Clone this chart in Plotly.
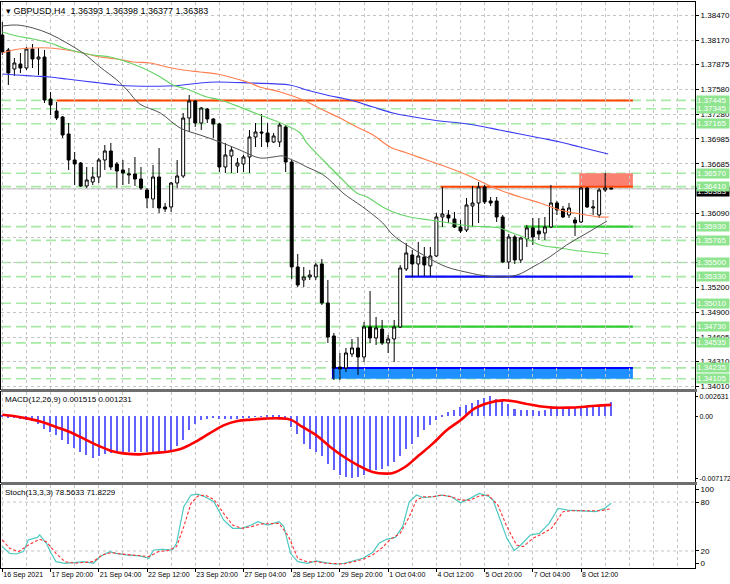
import plotly.graph_objects as go

# ---------------- DATA ----------------
bars = list(range(102))
opens = [1.38230, 1.38050, 1.37822, 1.37882, 1.37834, 1.38062, 1.37942, 1.37966, 1.37462, 1.37318,
         1.37246, 1.37042, 1.36730, 1.36694, 1.36418, 1.36466, 1.36526, 1.36730, 1.36838, 1.36682,
         1.36610, 1.36550, 1.36562, 1.36502, 1.36370, 1.36262, 1.36526, 1.36166, 1.36166, 1.36454,
         1.36538, 1.37234, 1.37438, 1.37174, 1.37342, 1.37222, 1.37162, 1.36646, 1.36778, 1.36658,
         1.36682, 1.36766, 1.37006, 1.37066, 1.37054, 1.36946, 1.36946, 1.37126, 1.36706, 1.35446,
         1.35290, 1.35326, 1.35326, 1.35482, 1.35014, 1.34618, 1.34246, 1.34234, 1.34402, 1.34474,
         1.34366, 1.34726, 1.34594, 1.34702, 1.34534, 1.34582, 1.34726, 1.35422, 1.35590, 1.35482,
         1.35566, 1.35458, 1.35578, 1.36046, 1.36070, 1.36022, 1.35926, 1.35890, 1.36178, 1.36214,
         1.36406, 1.36238, 1.36238, 1.36046, 1.35506, 1.35806, 1.35530, 1.35782, 1.35914, 1.35878,
         1.35854, 1.35926, 1.36214, 1.36142, 1.36070, 1.36010, 1.35986, 1.36394, 1.36154, 1.36070,
         1.36370, 1.36393]
highs = [1.38386, 1.38074, 1.37954, 1.38014, 1.38086, 1.38122, 1.38074, 1.38050, 1.37546, 1.37426,
         1.37258, 1.37174, 1.36826, 1.36706, 1.36646, 1.36646, 1.36754, 1.36910, 1.36934, 1.36706,
         1.36730, 1.36634, 1.36766, 1.36646, 1.36394, 1.36670, 1.36874, 1.36214, 1.36466, 1.36730,
         1.37294, 1.37510, 1.37450, 1.37366, 1.37354, 1.37234, 1.37174, 1.36934, 1.36886, 1.36754,
         1.36790, 1.37090, 1.37174, 1.37282, 1.37174, 1.37054, 1.37174, 1.37150, 1.36730, 1.35602,
         1.35446, 1.35410, 1.35494, 1.35542, 1.35290, 1.34654, 1.34414, 1.34474, 1.34582, 1.34606,
         1.34786, 1.35158, 1.34846, 1.34810, 1.34630, 1.34810, 1.35470, 1.35734, 1.35650, 1.35746,
         1.35686, 1.35686, 1.36094, 1.36406, 1.36130, 1.36106, 1.36010, 1.36274, 1.36418, 1.36466,
         1.36430, 1.36286, 1.36286, 1.36070, 1.35842, 1.35830, 1.35806, 1.35950, 1.36034, 1.36034,
         1.36046, 1.36430, 1.36238, 1.36178, 1.36214, 1.36046, 1.36406, 1.36406, 1.36250, 1.36394,
         1.36574, 1.36398]
lows = [1.37990, 1.37630, 1.37738, 1.37774, 1.37810, 1.37834, 1.37750, 1.37414, 1.37270, 1.37210,
        1.36994, 1.36610, 1.36430, 1.36406, 1.36394, 1.36430, 1.36454, 1.36610, 1.36610, 1.36394,
        1.36430, 1.36442, 1.36418, 1.36370, 1.36154, 1.36154, 1.36094, 1.36106, 1.36106, 1.36394,
        1.36514, 1.37066, 1.37126, 1.37090, 1.37174, 1.36994, 1.36586, 1.36574, 1.36574, 1.36574,
        1.36586, 1.36574, 1.36886, 1.36886, 1.36886, 1.36934, 1.36886, 1.36586, 1.35302, 1.35206,
        1.35206, 1.35290, 1.35290, 1.34990, 1.34534, 1.34090, 1.34090, 1.34186, 1.34366, 1.34150,
        1.34306, 1.34534, 1.34510, 1.34510, 1.34414, 1.34306, 1.34714, 1.35398, 1.35326, 1.35338,
        1.35338, 1.35338, 1.35566, 1.35926, 1.35974, 1.35914, 1.35854, 1.35866, 1.35926, 1.35974,
        1.36202, 1.36178, 1.35986, 1.35494, 1.35422, 1.35482, 1.35494, 1.35686, 1.35710, 1.35770,
        1.35770, 1.35914, 1.36070, 1.36034, 1.36034, 1.35818, 1.35974, 1.36154, 1.36070, 1.36034,
        1.36346, 1.36377]
closes = [1.38026, 1.37774, 1.37894, 1.37834, 1.38062, 1.37942, 1.37966, 1.37450, 1.37390, 1.37234,
          1.37030, 1.36730, 1.36682, 1.36418, 1.36490, 1.36526, 1.36730, 1.36838, 1.36646, 1.36598,
          1.36574, 1.36562, 1.36502, 1.36394, 1.36274, 1.36526, 1.36154, 1.36142, 1.36454, 1.36538,
          1.37234, 1.37438, 1.37174, 1.37354, 1.37222, 1.37162, 1.36646, 1.36790, 1.36850, 1.36694,
          1.36766, 1.37006, 1.37066, 1.37054, 1.36946, 1.37018, 1.37150, 1.36706, 1.35446, 1.35230,
          1.35326, 1.35350, 1.35470, 1.35014, 1.34606, 1.34234, 1.34222, 1.34414, 1.34474, 1.34366,
          1.34726, 1.34594, 1.34714, 1.34534, 1.34582, 1.34726, 1.35434, 1.35614, 1.35482, 1.35578,
          1.35470, 1.35578, 1.36046, 1.36082, 1.36034, 1.35926, 1.35878, 1.36190, 1.36214, 1.36406,
          1.36226, 1.36214, 1.36046, 1.35506, 1.35806, 1.35530, 1.35794, 1.35914, 1.35806, 1.35842,
          1.35926, 1.36214, 1.36130, 1.36046, 1.36154, 1.35974, 1.36394, 1.36166, 1.36166, 1.36370,
          1.36394, 1.36383]

x_tick_bars = [0, 8, 16, 24, 32, 40, 48, 56, 64, 72, 80, 88, 96]
x_tick_labels = ["16 Sep 2021", "17 Sep 20:00", "21 Sep 04:00", "22 Sep 12:00", "23 Sep 20:00",
                 "27 Sep 04:00", "28 Sep 12:00", "29 Sep 20:00", "1 Oct 04:00", "4 Oct 12:00",
                 "5 Oct 20:00", "7 Oct 04:00", "8 Oct 12:00"]

price_ticks = [1.38470, 1.38170, 1.37875, 1.37580, 1.37280, 1.36985, 1.36685, 1.36390,
               1.36090, 1.35795, 1.35500, 1.35200, 1.34900, 1.34605, 1.34310, 1.34010]
price_tick_text = ["1.38470", "1.38170", "1.37875", "1.37580", "1.37280", "1.36985", "1.36685", "",
                   "1.36090", "", "", "1.35200", "1.34900", "1.34605", "1.34310", "1.34010"]

# moving averages (bar position, price)
ma_gray_x = [0, 2.4, 5.1, 7.9, 10.7, 13.4, 16.2, 19.0, 20.7, 22.8, 26.2, 29.5, 32.8, 36.1, 39.4, 42.7,
             44.9, 46.6, 47.7, 48.9, 50.5, 52.7, 54.3, 56.5, 59.8, 63.1, 64.8, 67.6, 70.4, 73.7, 77.6,
             79.2, 82.5, 85.4, 88.0, 90.8, 93.6, 97.0, 100.3]
ma_gray_y = [1.38338, 1.38350, 1.38314, 1.38242, 1.38134, 1.38014, 1.37846, 1.37690, 1.37570, 1.37402,
             1.37294, 1.37114, 1.37030, 1.36946, 1.36850, 1.36754, 1.36766, 1.36778, 1.36742, 1.36706,
             1.36646, 1.36574, 1.36490, 1.36334, 1.36166, 1.35974, 1.35830, 1.35686, 1.35566, 1.35446,
             1.35374, 1.35350, 1.35326, 1.35350, 1.35446, 1.35566, 1.35710, 1.35854, 1.35998]
ma_green_x = [0, 2.4, 5.1, 7.9, 10.7, 15.0, 17.9, 20.7, 23.3, 26.2, 28.3, 30.6, 33.9, 35.6, 39.4, 42.7,
              46.6, 49.4, 50.5, 53.2, 56.0, 58.8, 60.5, 63.1, 64.8, 67.6, 70.9, 74.2, 77.6, 80.9, 82.5,
              84.2, 86.4, 89.2, 92.5, 95.8, 100.6]
ma_green_y = [1.38266, 1.38218, 1.38182, 1.38134, 1.38062, 1.37990, 1.37966, 1.37906, 1.37834, 1.37726,
              1.37630, 1.37582, 1.37486, 1.37462, 1.37366, 1.37270, 1.37162, 1.37054, 1.36934, 1.36730,
              1.36526, 1.36334, 1.36286, 1.36166, 1.36106, 1.36046, 1.36010, 1.35974, 1.35938, 1.35926,
              1.35914, 1.35866, 1.35806, 1.35710, 1.35674, 1.35638, 1.35602]
ma_orange_x = [0, 1.8, 5.1, 7.9, 10.7, 13.4, 16.2, 19.0, 21.7, 24.5, 27.3, 30.0, 32.8, 35.6, 38.3, 41.1,
               42.7, 46.1, 49.9, 53.2, 56.0, 58.8, 61.5, 64.3, 67.1, 70.4, 73.7, 77.1, 79.2, 82.5, 85.9,
               89.2, 92.5, 95.8, 99.1, 100.6]
ma_orange_y = [1.38014, 1.38050, 1.38074, 1.38074, 1.38050, 1.38014, 1.37966, 1.37942, 1.37906, 1.37894,
               1.37846, 1.37810, 1.37786, 1.37762, 1.37714, 1.37654, 1.37606, 1.37546, 1.37450, 1.37330,
               1.37234, 1.37126, 1.37030, 1.36886, 1.36814, 1.36730, 1.36646, 1.36550, 1.36478, 1.36370,
               1.36286, 1.36214, 1.36130, 1.36082, 1.36046, 1.36046]
ma_blue_x = [0, 2.4, 5.1, 7.9, 10.7, 13.4, 16.2, 19.0, 21.7, 27.3, 30.0, 32.8, 35.6, 41.1, 47.7, 50.5,
             53.8, 57.7, 61.5, 64.8, 69.3, 72.6, 75.9, 79.2, 82.5, 89.2, 92.5, 95.8, 100.5]
ma_blue_y = [1.37762, 1.37750, 1.37738, 1.37726, 1.37702, 1.37678, 1.37654, 1.37630, 1.37618, 1.37618,
             1.37630, 1.37654, 1.37666, 1.37654, 1.37630, 1.37570, 1.37510, 1.37450, 1.37366, 1.37294,
             1.37234, 1.37198, 1.37174, 1.37138, 1.37090, 1.36994, 1.36946, 1.36886, 1.36802]

# horizontal levels (dashed, full width) and their right-axis labels
level_prices = [1.37445, 1.37345, 1.37165, 1.36570, 1.36410, 1.35930, 1.35765,
                1.35500, 1.35330, 1.35010, 1.34730, 1.34535, 1.34235, 1.34105]
# solid support / resistance segments: price, start bar
orange_levels = [1.37445, 1.36410]
orange_starts = [9.0, 72.7]
green_levels = [1.35930, 1.34730]
green_starts = [86.5, 59.7]
blue_levels = [1.35330]
blue_starts = [66.8]
segment_end = 104.6
salmon_zone = [95.7, 1.36410, 1.36570]   # start bar, low, high
blue_zone = [54.8, 1.34105, 1.34235]

# MACD histogram (per bar) and signal line samples
macd_hist = [0.00010, -0.00010, -0.00025, -0.00035, -0.00040, -0.00050, -0.00080, -0.00136, -0.00172, -0.00209,
             -0.00256, -0.00307, -0.00347, -0.00390, -0.00427, -0.00452, -0.00437, -0.00416, -0.00401, -0.00401,
             -0.00401, -0.00394, -0.00394, -0.00394, -0.00390, -0.00394, -0.00390, -0.00383, -0.00372, -0.00329,
             -0.00256, -0.00154, -0.00082, -0.00045, -0.00030, -0.00020, -0.00028, -0.00036, -0.00032, -0.00026,
             -0.00020, -0.00012, -0.00008, -0.00004, 0.00002, 0.00005, 0.00010, -0.00012, -0.00118, -0.00198,
             -0.00299, -0.00354, -0.00390, -0.00437, -0.00517, -0.00583, -0.00637, -0.00662, -0.00673, -0.00662,
             -0.00644, -0.00608, -0.00583, -0.00572, -0.00546, -0.00499, -0.00437, -0.00354, -0.00299, -0.00227,
             -0.00154, -0.00100, -0.00038, 0.00009, 0.00045, 0.00071, 0.00100, 0.00118, 0.00143, 0.00172,
             0.00201, 0.00216, 0.00191, 0.00165, 0.00136, 0.00082, 0.00071, 0.00071, 0.00064, 0.00056,
             0.00071, 0.00100, 0.00100, 0.00100, 0.00093, 0.00093, 0.00107, 0.00107, 0.00114, 0.00118,
             0.00129, 0.001515]
macd_sig_x = [0, 1.9, 4.3, 6.6, 8.9, 11.2, 13.5, 15.8, 18.1, 20.5, 22.8, 25.1, 27.4, 29.7, 32.0, 34.3,
              36.7, 39.0, 41.3, 43.6, 45.9, 47.8, 49.8, 52.1, 54.4, 56.7, 59.0, 61.4, 63.7, 64.8, 66.8,
              69.1, 71.4, 73.7, 76.0, 78.3, 80.6, 83.0, 84.5, 86.8, 89.1, 91.4, 93.8, 96.1, 98.4, 101]
macd_sig_y = [0.00016, 0.00002, -0.00027, -0.00064, -0.00118, -0.00172, -0.00245, -0.00318, -0.00379,
              -0.00408, -0.00416, -0.00401, -0.00387, -0.00354, -0.00281, -0.00191, -0.00100, -0.00053,
              -0.00038, -0.00027, -0.00024, -0.00038, -0.00118, -0.00209, -0.00336, -0.00445, -0.00535,
              -0.00608, -0.00626, -0.00619, -0.00554, -0.00427, -0.00299, -0.00154, -0.00045, 0.00082,
              0.00143, 0.00172, 0.00165, 0.00136, 0.00107, 0.00093, 0.00093, 0.00100, 0.00114, 0.001231]
macd_tick_vals = [0.00216, 0.0, -0.00674]
macd_tick_text = ["0.002631", "0.00", "-0.007172"]

# Stochastic main and signal samples
stoch_main_x = [0, 1.2, 2.3, 3.5, 4.3, 5.8, 6.2, 7.3, 8.1, 8.9, 10.4, 12.0, 13.5, 15.1, 16.2, 17.8, 18.9,
                20.5, 22.8, 24.3, 25.1, 26.6, 28.2, 28.9, 30.1, 31.3, 32.4, 33.6, 35.1, 36.7, 38.2, 39.7,
                41.3, 42.4, 44.0, 45.9, 46.7, 47.8, 49.0, 50.6, 52.1, 53.6, 55.2, 56.7, 58.3, 59.8, 61.4,
                62.5, 63.7, 65.2, 66.4, 67.5, 68.7, 69.8, 71.4, 72.9, 74.5, 76.0, 77.6, 79.1, 80.6, 81.4,
                82.6, 83.7, 84.9, 86.0, 87.6, 89.1, 90.7, 92.2, 93.8, 95.3, 96.9, 98.4, 99.9, 101]
stoch_main_y = [25.3, 17.1, 16.3, 19.2, 33.5, 36.7, 39.6, 29.4, 17.1, 6.9, 4.9, 5.7, 6.9, 4.9, 13.1, 19.2,
                17.1, 15.1, 13.9, 11.0, 21.2, 22.0, 21.2, 29.4, 74.3, 88.6, 89.8, 86.5, 80.4, 58.0, 47.8,
                47.8, 51.8, 55.9, 51.8, 55.9, 49.8, 17.1, 6.9, 4.9, 7.8, 5.7, 3.7, 4.9, 8.2, 11.0, 18.0,
                29.4, 34.3, 36.7, 49.8, 80.4, 88.6, 85.3, 86.5, 88.6, 86.5, 79.2, 84.5, 90.6, 87.3, 82.4,
                58.0, 35.5, 20.4, 27.3, 39.6, 41.6, 53.9, 72.2, 70.2, 69.4, 69.4, 68.2, 72.2, 78.5633]
stoch_sig_x = [0, 1.2, 2.7, 4.3, 6.2, 7.3, 8.9, 10.4, 12.0, 13.5, 15.1, 16.6, 18.1, 19.7, 21.2, 22.8, 24.3,
               25.9, 27.4, 28.9, 30.1, 31.3, 32.4, 33.6, 35.1, 36.7, 38.2, 39.7, 41.3, 42.8, 44.4, 45.9,
               47.5, 49.0, 50.6, 52.1, 53.6, 55.2, 56.7, 58.3, 59.8, 61.4, 62.9, 64.4, 66.0, 67.5, 68.7,
               69.8, 71.4, 72.9, 74.5, 76.0, 77.6, 79.1, 80.6, 82.2, 83.7, 85.3, 86.4, 88.0, 89.5, 91.1,
               93.0, 94.5, 96.1, 97.6, 99.2, 101]
stoch_sig_y = [33.5, 23.3, 19.2, 27.3, 34.3, 31.4, 17.1, 6.9, 4.9, 5.7, 6.9, 15.1, 18.0, 16.3, 15.1, 13.9,
               13.1, 19.2, 20.4, 25.3, 49.8, 78.4, 87.3, 88.6, 83.3, 66.1, 51.8, 47.8, 49.8, 53.1, 53.9,
               53.9, 37.6, 11.0, 6.5, 6.9, 4.9, 4.1, 4.1, 6.9, 9.8, 15.1, 23.3, 34.3, 41.6, 62.0, 82.4,
               86.5, 86.5, 88.6, 86.5, 82.4, 82.4, 87.3, 88.6, 76.3, 49.8, 27.3, 25.3, 35.5, 40.8, 47.8,
               68.2, 69.4, 69.4, 69.4, 69.4, 71.8229]
stoch_levels = [80, 20]
stoch_tick_vals = [95.6, 80, 20, 4.9]
stoch_tick_text = ["100", "80", "20", "0"]

header_text = "GBPUSD,H4  1.36393 1.36398 1.36377 1.36383"
macd_text = "MACD(12,26,9) 0.001515 0.001231"
stoch_text = "Stoch(13,3,3) 78.5633 71.8229"

# ---------------- FIGURE ----------------
FONT = "Liberation Sans Narrow, Liberation Sans, Arial, sans-serif"
GRID = "#c4c4c4"
XR = [-0.22, 114.9]
D_MAIN = [0.3163, 1.0]
D_MACD = [0.1519, 0.3110]
D_STOCH = [0.0, 0.1466]

fig = go.Figure()

for xs, ys, col, w in [(ma_blue_x, ma_blue_y, "#3b3bf5", 1.2),
                       (ma_orange_x, ma_orange_y, "#ff7f50", 1.2),
                       (ma_green_x, ma_green_y, "#66d466", 1.2),
                       (ma_gray_x, ma_gray_y, "#505050", 1.0)]:
    fig.add_trace(go.Scatter(x=xs, y=ys, mode="lines", line=dict(color=col, width=w, shape="spline"),
                             xaxis="x", yaxis="y", hoverinfo="skip", showlegend=False))

fig.add_trace(go.Candlestick(
    x=bars, open=opens, high=highs, low=lows, close=closes,
    increasing=dict(line=dict(color="black", width=1), fillcolor="white"),
    decreasing=dict(line=dict(color="black", width=1), fillcolor="black"),
    whiskerwidth=0, xaxis="x", yaxis="y", showlegend=False))

fig.add_trace(go.Bar(x=bars, y=macd_hist, width=0.25, marker=dict(color="#6060ff", line=dict(width=0)),
                     xaxis="x2", yaxis="y2", showlegend=False))
fig.add_trace(go.Scatter(x=macd_sig_x, y=macd_sig_y, mode="lines",
                         line=dict(color="#ff0000", width=2.6, shape="spline"),
                         xaxis="x2", yaxis="y2", showlegend=False))

fig.add_trace(go.Scatter(x=stoch_main_x, y=stoch_main_y, mode="lines",
                         line=dict(color="#4cc9c0", width=1.2),
                         xaxis="x3", yaxis="y3", showlegend=False))
fig.add_trace(go.Scatter(x=stoch_sig_x, y=stoch_sig_y, mode="lines",
                         line=dict(color="#ff3030", width=1.1, dash="3px,2px"),
                         xaxis="x3", yaxis="y3", showlegend=False))

shapes = []
for p in level_prices:
    shapes.append(dict(type="line", xref="x", yref="y", x0=XR[0], x1=XR[1], y0=p, y1=p,
                       line=dict(color="#a6eaa6", width=1.6, dash="10px,5px"), layer="below"))
shapes.append(dict(type="line", xref="x", yref="y", x0=XR[0], x1=XR[1], y0=closes[-1], y1=closes[-1],
                   line=dict(color="#c0c0c0", width=1), layer="below"))
shapes.append(dict(type="rect", xref="x", yref="y", x0=salmon_zone[0], x1=segment_end,
                   y0=salmon_zone[1], y1=salmon_zone[2], fillcolor="#fa8072", line=dict(width=0),
                   layer="below"))
shapes.append(dict(type="rect", xref="x", yref="y", x0=blue_zone[0], x1=segment_end,
                   y0=blue_zone[1], y1=blue_zone[2], fillcolor="#1e90ff", line=dict(width=0),
                   layer="below"))
shapes.append(dict(type="line", xref="x", yref="y", x0=blue_zone[0], x1=segment_end,
                   y0=blue_zone[2], y1=blue_zone[2], line=dict(color="#0000ff", width=2), layer="below"))
shapes.append(dict(type="line", xref="x", yref="y", x0=blue_zone[0], x1=blue_zone[0],
                   y0=blue_zone[1], y1=blue_zone[2], line=dict(color="#0000c0", width=1.5), layer="below"))
for p, s in zip(orange_levels, orange_starts):
    shapes.append(dict(type="line", xref="x", yref="y", x0=s, x1=segment_end, y0=p, y1=p,
                       line=dict(color="#ff4500", width=2), layer="below"))
for p, s in zip(green_levels, green_starts):
    shapes.append(dict(type="line", xref="x", yref="y", x0=s, x1=segment_end, y0=p, y1=p,
                       line=dict(color="#32cd32", width=2.2), layer="below"))
for p, s in zip(blue_levels, blue_starts):
    shapes.append(dict(type="line", xref="x", yref="y", x0=s, x1=segment_end, y0=p, y1=p,
                       line=dict(color="#0a0aff", width=2.2), layer="below"))
for lv in stoch_levels:
    shapes.append(dict(type="line", xref="x3", yref="y3", x0=XR[0], x1=XR[1], y0=lv, y1=lv,
                       line=dict(color=GRID, width=1, dash="3px,3px"), layer="below"))
# window separators (thick dark band between the indicator windows)
for top, bot in [(D_MAIN[0], D_MACD[1]), (D_MACD[0], D_STOCH[1])]:
    shapes.append(dict(type="rect", xref="paper", yref="paper", x0=0, x1=1.003, y0=bot, y1=top,
                       fillcolor="#6e6e6e", line=dict(width=0), layer="above"))

annotations = []
annotations.append(dict(xref="paper", yref="y", x=1, y=closes[-1], xanchor="left", yanchor="middle",
                        xshift=1, yshift=-3, text="%.5f" % closes[-1], showarrow=False,
                        bgcolor="#000000", font=dict(family=FONT, size=8, color="white"),
                        borderpad=0, width=32, align="left"))
for p in level_prices:
    annotations.append(dict(xref="paper", yref="y", x=1, y=p, xanchor="left", yanchor="middle",
                            xshift=1, text="%.5f" % p, showarrow=False,
                            bgcolor="#8fe48f", font=dict(family=FONT, size=8, color="white"),
                            borderpad=0, width=32, align="left"))
annotations.append(dict(xref="paper", yref="paper", x=0, y=1, xanchor="left", yanchor="top",
                        xshift=3, yshift=-2, showarrow=False,
                        text="▾ " + header_text,
                        font=dict(family=FONT, size=9, color="black")))
annotations.append(dict(xref="paper", yref="paper", x=0, y=D_MACD[1], xanchor="left", yanchor="top",
                        xshift=2, yshift=-1, showarrow=False, text=macd_text,
                        font=dict(family=FONT, size=8, color="black")))
annotations.append(dict(xref="paper", yref="paper", x=0, y=D_STOCH[1], xanchor="left", yanchor="top",
                        xshift=2, yshift=-1, showarrow=False, text=stoch_text,
                        font=dict(family=FONT, size=8, color="black")))

xcommon = dict(range=XR, showline=True, mirror=True, linecolor="black", linewidth=1,
               tickmode="array", tickvals=x_tick_bars, ticktext=x_tick_labels,
               showgrid=True, gridcolor=GRID, griddash="3px,3px", gridwidth=1,
               minor=dict(tick0=0, dtick=4, showgrid=True, gridcolor=GRID, griddash="3px,3px"),
               zeroline=False, rangeslider=dict(visible=False), fixedrange=True, automargin=False)
ycommon = dict(side="right", showline=True, mirror=True, linecolor="black", linewidth=1,
               ticks="outside", ticklen=3, tickcolor="black", zeroline=False, automargin=False,
               tickfont=dict(family=FONT, size=8, color="black"), fixedrange=True)

fig.update_layout(
    width=730, height=584, autosize=False,
    margin=dict(l=1, r=35, t=2, b=16, pad=0),
    paper_bgcolor="white", plot_bgcolor="white",
    showlegend=False, hovermode=False,
    xaxis=dict(**xcommon, anchor="y", showticklabels=False, ticks=""),
    xaxis2=dict(**xcommon, anchor="y2", showticklabels=False, ticks=""),
    xaxis3=dict(**xcommon, anchor="y3", showticklabels=True, ticks="outside",
                ticklen=3, tickcolor="black", ticklabelposition="outside right", tickangle=0,
                tickfont=dict(family=FONT, size=7, color="black")),
    yaxis=dict(**ycommon, domain=D_MAIN, range=[1.33982, 1.38626], anchor="x",
               tickmode="array", tickvals=price_ticks, ticktext=price_tick_text,
               showgrid=True, gridcolor=GRID, griddash="3px,3px"),
    yaxis2=dict(**ycommon, domain=D_MACD, range=[-0.007172, 0.002631], anchor="x2",
                tickmode="array", tickvals=macd_tick_vals, ticktext=macd_tick_text, showgrid=False),
    yaxis3=dict(**ycommon, domain=D_STOCH, range=[-0.9, 100.9], anchor="x3",
                tickmode="array", tickvals=stoch_tick_vals, ticktext=stoch_tick_text, showgrid=False),
    shapes=shapes, annotations=annotations, bargap=0,
)
fig.update_layout(yaxis2_tickfont=dict(family=FONT, size=7, color="black"), yaxis2_ticklen=2)

fig.write_html("out.html", config={"displayModeBar": False},
               post_script="document.body.style.margin='0';document.body.style.overflow='hidden';")
